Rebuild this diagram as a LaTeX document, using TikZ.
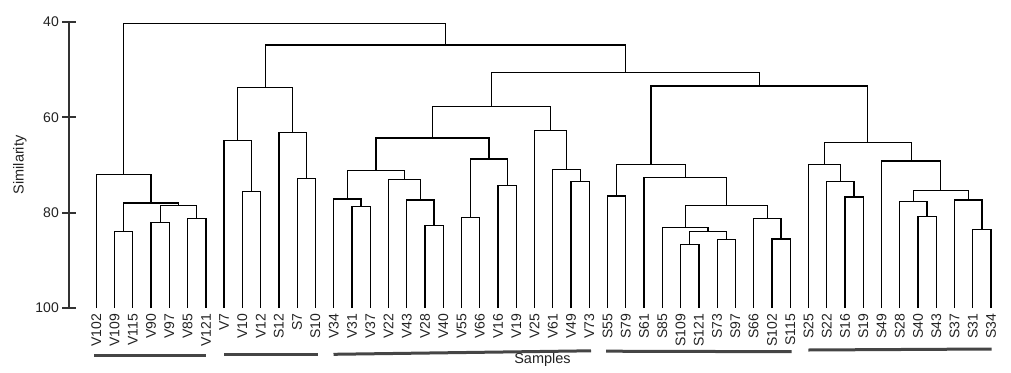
\documentclass[tikz,border=0pt]{standalone}
\usepackage{fontspec}
\setmainfont{Liberation Sans}
\usetikzlibrary{calc}

\definecolor{axisgray}{HTML}{333333}
\definecolor{bargray}{HTML}{454545}
\definecolor{textgray}{HTML}{222222}

% join two clusters #2 and #3 at height #4, name the joint #1
\newcommand\merge[4]{%
  \path let \p1=($(#2)!0.5!(#3)$), \p2=(0,#4) in (\x1,\y2) coordinate (#1);
  \draw[branch] (#2) |- (#1) -| (#3);}

\begin{document}
\begin{tikzpicture}[x=1pt, y=-1pt,
    branch/.style={black, line width=1.3pt},
    axis/.style={axisgray, line width=2pt},
    leaf/.style={rotate=90, anchor=east, inner xsep=5.5pt, inner ysep=0pt, text=textgray, font=\fontsize{14}{16}\selectfont},
    ticklabel/.style={anchor=east, inner sep=0pt, text=textgray, font=\fontsize{14}{16}\selectfont},
    title/.style={text=textgray, inner sep=0pt, font=\fontsize{14.5}{16}\selectfont},
    group/.style={bargray, line width=3pt}]
  \useasboundingbox (0,0) rectangle (1011,372);

  % axis
  \draw[axis] (69,22) -- (69,308);
  \foreach \v/\y in {40/22, 60/117.3, 80/212.7, 100/308} {
    \draw[axis] (62,\y) -- (76,\y);
    \node[ticklabel] (t\v) at (59,\y) {\v};
  }
  \node[title, rotate=90] (ylab) at (20,165) {Similarity};
  \node[title, anchor=base] (xlab) at (542.5,363.5) {Samples};

  % leaves
  \foreach \s [count=\i from 0] in {V102,V109,V115,V90,V97,V85,V121,V7,V10,V12,S12,S7,S10,
      V34,V31,V37,V22,V43,V28,V40,V55,V66,V16,V19,V25,V61,V49,V73,
      S55,S79,S61,S85,S109,S121,S73,S97,S66,S102,S115,
      S25,S22,S16,S19,S49,S28,S40,S43,S37,S31,S34} {
    \coordinate (\s) at ({96.3+18.26*\i},308);
    \node[leaf] (l\s) at (\s) {\s};
  }

  % first group
  \merge{a1}{V109}{V115}{231.7}
  \merge{a2}{V90}{V97}{222.7}
  \merge{a3}{V85}{V121}{218.7}
  \merge{a4}{a2}{a3}{205.3}
  \merge{a5}{a1}{a4}{203}
  \merge{a6}{V102}{a5}{174.3}
  % second group
  \merge{b1}{V10}{V12}{191.7}
  \merge{b2}{V7}{b1}{140.7}
  \merge{b3}{S7}{S10}{178.3}
  \merge{b4}{S12}{b3}{132.7}
  \merge{b5}{b2}{b4}{87.3}
  % third group
  \merge{c1}{V31}{V37}{206.7}
  \merge{c2}{V34}{c1}{199}
  \merge{c3}{V28}{V40}{225.7}
  \merge{c4}{V43}{c3}{200}
  \merge{c5}{V22}{c4}{179.7}
  \merge{c6}{c2}{c5}{170.3}
  \merge{c7}{V55}{V66}{217.3}
  \merge{c8}{V16}{V19}{185.7}
  \merge{c9}{c7}{c8}{159}
  \merge{c10}{c6}{c9}{138}
  \merge{c11}{V49}{V73}{181.7}
  \merge{c12}{V61}{c11}{169.3}
  \merge{c13}{V25}{c12}{130.3}
  \merge{c14}{c10}{c13}{106.7}
  % fourth group
  \merge{d1}{S55}{S79}{196}
  \merge{d2}{S109}{S121}{244.3}
  \merge{d3}{S73}{S97}{239.7}
  \merge{d4}{d2}{d3}{231.7}
  \merge{d5}{S85}{d4}{227.7}
  \merge{d6}{S102}{S115}{239}
  \merge{d7}{S66}{d6}{218.7}
  \merge{d8}{d5}{d7}{205.3}
  \merge{d9}{S61}{d8}{177.3}
  \merge{d10}{d1}{d9}{164.3}
  % fifth group
  \merge{e1}{S16}{S19}{197}
  \merge{e2}{S22}{e1}{181.7}
  \merge{e3}{S25}{e2}{164.3}
  \merge{e4}{S40}{S43}{216.7}
  \merge{e5}{S28}{e4}{201.3}
  \merge{e6}{S31}{S34}{229.7}
  \merge{e7}{S37}{e6}{200}
  \merge{e8}{e5}{e7}{190.7}
  \merge{e9}{S49}{e8}{161}
  \merge{e10}{e3}{e9}{142.7}
  % top
  \merge{f1}{d10}{e10}{86}
  \merge{f2}{c14}{f1}{72.3}
  \merge{f3}{b5}{f2}{45}
  \merge{f4}{a6}{f3}{23.3}

  % group bars
  \draw[group] (94,355.5) -- (206,355.5);
  \draw[group] (224,354.5) -- (318.3,354.5);
  \draw[group] (333.5,354.3) -- (591,350.8);
  \draw[group] (606,351.2) -- (791.7,351.7);
  \draw[group] (808.3,350) -- (991.7,349);
\end{tikzpicture}
\end{document}
